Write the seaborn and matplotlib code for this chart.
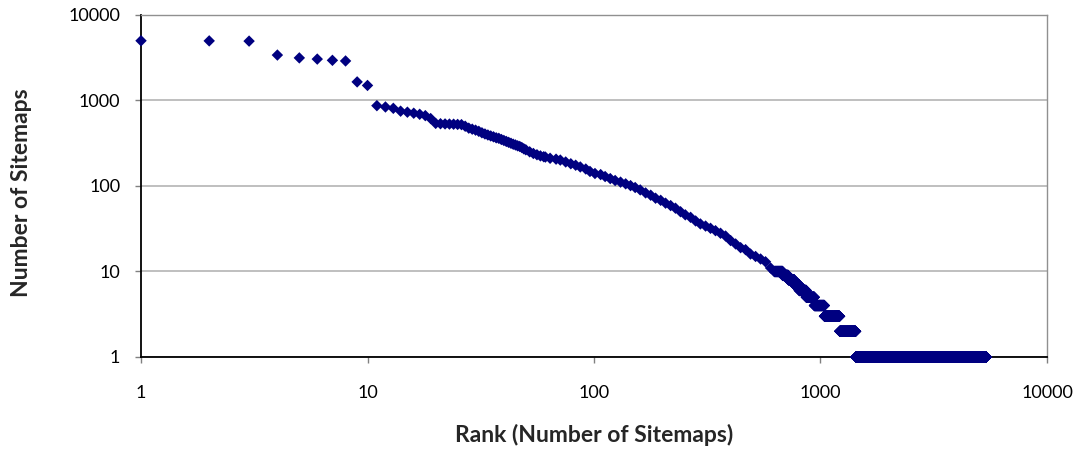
import matplotlib
matplotlib.use("Agg")
import matplotlib.pyplot as plt
from matplotlib.ticker import FixedLocator, FixedFormatter, NullLocator
import numpy as np
import pandas as pd
import seaborn as sns

# individual ranks (head and middle of the curve)
ranks = [1, 2, 3, 4, 5, 6, 7, 8, 9, 10,
         11, 12, 13, 14, 15, 16, 17, 18, 19, 20,
         21, 22, 23, 24, 25, 26, 27, 28, 29, 30,
         31, 32, 33, 34, 35, 36, 37, 38, 39, 40,
         41, 42, 43, 44, 45, 46, 47, 48, 49, 50,
         52, 54, 56, 58, 60, 61, 64, 68, 71, 75,
         79, 83, 87, 92, 96, 101, 107, 112, 118, 124,
         131, 138, 145, 152, 160, 169, 178, 187, 197, 207,
         218, 229, 241, 253, 267, 281, 295, 311, 327, 344,
         362, 381, 401, 422, 444, 467, 491, 517, 544, 572, 602]
sitemaps = [5000, 4980, 4950, 3400, 3150, 3050, 2950, 2900, 1650, 1500,
            870, 840, 810, 750, 730, 710, 690, 665, 615, 540,
            535, 532, 530, 528, 525, 522, 500, 475, 462, 450,
            436, 419, 406, 395, 385, 376, 366, 361, 350, 341,
            332, 324, 316, 308, 302, 295, 290, 282, 272, 265,
            251, 240, 232, 225, 220, 218, 211, 206, 201, 191,
            182, 175, 167, 158, 148, 140, 136, 129, 122, 116,
            111, 106, 101, 96, 90, 83, 78, 72, 68, 63,
            59, 55, 50, 46, 43, 39, 36, 34, 32, 30,
            28, 26, 23, 21, 19, 18, 16, 15, 14, 13, 11]

# tied counts in the tail: every rank from start to end has this value
tie_values = [10, 9, 8, 7, 6, 5, 4, 3, 2, 1]
tie_start = [626, 681, 721, 766, 806, 866, 940, 1041, 1216, 1431]
tie_end = [680, 720, 765, 805, 865, 939, 1040, 1215, 1430, 5400]

tick_values = [1, 10, 100, 1000, 10000]
tick_labels = ["1", "10", "100", "1000", "10000"]


def build_frame() -> pd.DataFrame:
    tail_rank = np.concatenate([np.arange(s, e + 1) for s, e in zip(tie_start, tie_end)])
    tail_val = np.concatenate([np.full(e - s + 1, v) for v, s, e in zip(tie_values, tie_start, tie_end)])
    return pd.DataFrame({
        "rank": np.concatenate([ranks, tail_rank]),
        "sitemaps": np.concatenate([sitemaps, tail_val]),
    })


def main() -> None:
    sns.set_theme(style="white")
    plt.rcParams["font.family"] = ["Lato", "DejaVu Sans"]

    data = build_frame()

    fig = plt.figure(figsize=(10.79, 4.49), dpi=100)
    ax = fig.add_axes([0.1307, 0.2049, 0.8396, 0.7617])

    sns.scatterplot(data=data, x="rank", y="sitemaps", marker="D", s=34,
                    color="#000080", edgecolor="none", linewidth=0,
                    clip_on=False, zorder=3, ax=ax)

    ax.set_xscale("log")
    ax.set_yscale("log")
    ax.set_xlim(1, 10000)
    ax.set_ylim(1, 10000)
    for axis in (ax.xaxis, ax.yaxis):
        axis.set_major_locator(FixedLocator(tick_values))
        axis.set_major_formatter(FixedFormatter(tick_labels))
        axis.set_minor_locator(NullLocator())

    ax.yaxis.grid(True, color="#b4b4b4", linewidth=1.2)
    ax.xaxis.grid(False)
    ax.set_axisbelow(True)

    ax.tick_params(axis="x", direction="out", length=4, width=1, color="#808080",
                   pad=16, labelsize=13, labelcolor="black", bottom=True)
    ax.tick_params(axis="y", direction="out", length=4, width=1, color="#808080",
                   pad=11, labelsize=13, labelcolor="black", left=True)

    for side in ("left", "bottom"):
        ax.spines[side].set_color("black")
        ax.spines[side].set_linewidth(1.3)
    for side in ("top", "right"):
        ax.spines[side].set_color("#909090")
        ax.spines[side].set_linewidth(1.0)

    ax.set_xlabel("Rank (Number of Sitemaps)", fontsize=16.5, fontweight="bold")
    ax.set_ylabel("Number of Sitemaps", fontsize=16.5, fontweight="bold")
    ax.xaxis.set_label_coords(0.5, -0.195)
    ax.yaxis.set_label_coords(-0.12, 0.48)

    fig.savefig("out.png", dpi=100)
    plt.close(fig)


if __name__ == "__main__":
    main()
